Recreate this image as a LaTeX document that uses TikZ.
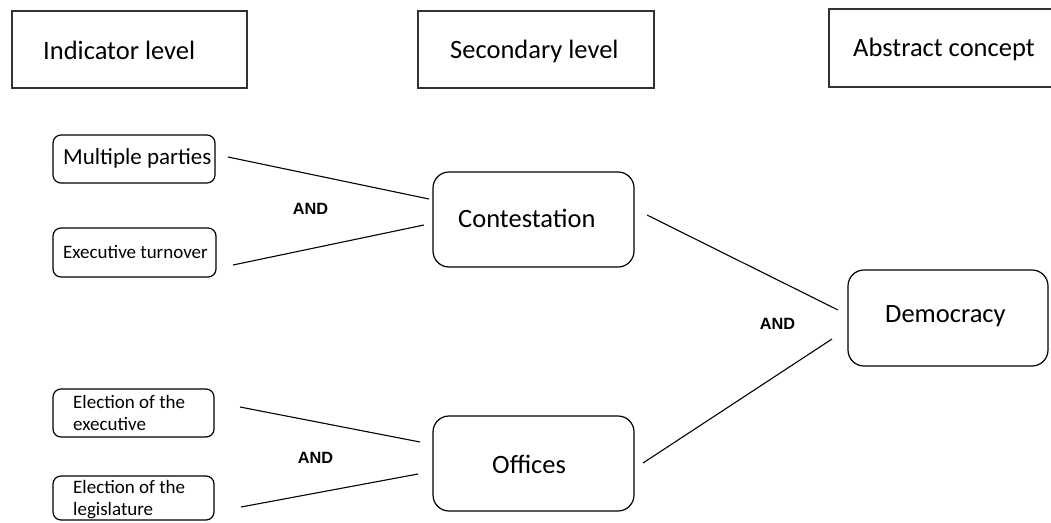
\documentclass[tikz,border=0pt]{standalone}
\usepackage{fontspec}
\setmainfont{Carlito}
\newfontfamily\andfont{Liberation Sans}
\begin{document}
\begin{tikzpicture}[x=1pt,y=-1pt,
  hdr/.style={draw=black!80, line width=1.8pt, rectangle, inner sep=0pt},
  sbox/.style={draw=black, line width=1.2pt, rounded corners=8pt, inner sep=0pt},
  bbox/.style={draw=black, line width=1.2pt, rounded corners=16pt, inner sep=0pt},
  conn/.style={draw=black, line width=1.1pt},
  hdrtxt/.style={font=\fontsize{26.5}{30}\selectfont, anchor=base west, inner sep=0pt},
  bigtxt/.style={font=\fontsize{26.5}{30}\selectfont, anchor=base west, inner sep=0pt},
  smtxt/.style={font=\fontsize{19}{22}\selectfont, anchor=base west, inner sep=0pt, align=left},
  andtxt/.style={font=\andfont\bfseries\fontsize{16.3}{18}\selectfont, inner sep=0pt}
]
\useasboundingbox (0,0) rectangle (1051,522);
\clip (0,0) rectangle (1051,522);
\fill[white] (0,0) rectangle (1051,522);

% header boxes
\node[hdr, minimum width=235pt, minimum height=77pt] (hind) at (129.5,49.5) {};
\node[hdr, minimum width=236pt, minimum height=77pt] (hsec) at (536,49.5) {};
\node[hdr, minimum width=241pt, minimum height=78pt] (habs) at (949.5,48) {};
\node[hdrtxt] (hindt) at (43,59) {Indicator level};
\node[hdrtxt] (hsect) at (450,58.5) {Secondary level};
\node[hdrtxt] (habst) at (853,56) {Abstract concept};

% indicator boxes
\node[sbox, minimum width=162pt, minimum height=48pt] (mp) at (134,159) {};
\node[sbox, minimum width=163pt, minimum height=49pt] (et) at (134.5,252.5) {};
\node[sbox, minimum width=161pt, minimum height=48pt] (ee) at (133.5,413) {};
\node[sbox, minimum width=161pt, minimum height=44pt] (el) at (133.5,498) {};
\node[smtxt, font=\fontsize{23}{26}\selectfont] (mpt) at (63,164) {Multiple parties};
\node[smtxt] (ett) at (63,258) {Executive turnover};
\node[smtxt] (eet) at (73,430) {Election of the\\executive};
\node[smtxt] (elt) at (73,515) {Election of the\\legislature};

% secondary and abstract boxes
\node[bbox, minimum width=201pt, minimum height=95pt] (cont) at (533.5,219.5) {};
\node[bbox, minimum width=201pt, minimum height=95pt] (off) at (533.5,463.5) {};
\node[bbox, minimum width=200pt, minimum height=96pt] (dem) at (948,318) {};
\node[bigtxt] (contt) at (458,227) {Contestation};
\node[bigtxt] (offt) at (492,473) {Offices};
\node[bigtxt] (demt) at (885,322) {Democracy};

% AND labels
\node[andtxt] (and1) at (310.5,209) {AND};
\node[andtxt] (and2) at (315.5,457.5) {AND};
\node[andtxt] (and3) at (777.5,323.5) {AND};

% connector ends
\coordinate (l1a) at (228,157); \coordinate (l1b) at (429,199);
\coordinate (l2a) at (233,265); \coordinate (l2b) at (424,225);
\coordinate (l3a) at (240,407); \coordinate (l3b) at (420,442);
\coordinate (l4a) at (241,507); \coordinate (l4b) at (418,474);
\coordinate (l5a) at (647,215); \coordinate (l5b) at (838,310);
\coordinate (l6a) at (643,463); \coordinate (l6b) at (832,339);
\draw[conn] (l1a) -- (l1b);
\draw[conn] (l2a) -- (l2b);
\draw[conn] (l3a) -- (l3b);
\draw[conn] (l4a) -- (l4b);
\draw[conn] (l5a) -- (l5b);
\draw[conn] (l6a) -- (l6b);
\end{tikzpicture}
\end{document}
